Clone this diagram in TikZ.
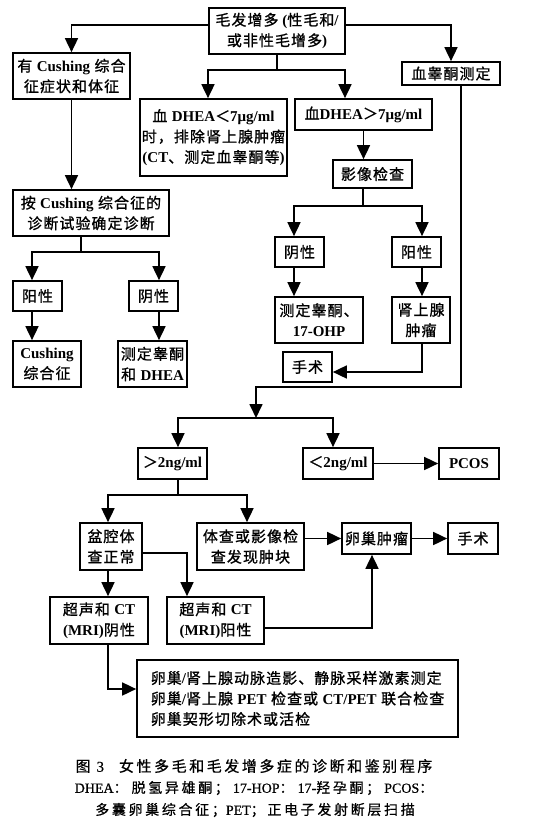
\documentclass[tikz,border=0pt]{standalone}
\usepackage{fontspec}
\setmainfont{Liberation Serif}
\newfontfamily\cjk[LetterSpace=7,FakeBold=1]{Noto Sans CJK SC}
\newfontfamily\cjkcapa[LetterSpace=17,FakeBold=0.6]{Noto Sans CJK SC}
\newfontfamily\cjkcapb[LetterSpace=19,FakeBold=0.6]{Noto Sans CJK SC}
\newfontfamily\capserif[FakeBold=0.6]{Liberation Serif}
\usetikzlibrary{arrows.meta}
\newcommand\en[1]{{\rmfamily\bfseries #1}}
\newcommand\enr[1]{{\capserif #1}}
\newcommand\bnode[6]{\node[bx, minimum width={(#4-#2)*1pt}, minimum height={(#5-#3)*1pt}] (#1) at ({(#2+#4)/2},{(#3+#5)/2}) {#6};}
\begin{document}
\begin{tikzpicture}[x=1pt,y=-1pt,
  bx/.style={draw, line width=1.7pt, inner sep=0pt, align=center, font=\cjk\fontsize{15}{20.5}\selectfont},
  arr/.style={line width=1.7pt, -{Triangle[length=14pt,width=13pt]}},
  ln/.style={line width=1.7pt},
  captxta/.style={inner sep=0pt, font=\cjkcapa\fontsize{15}{16}\selectfont},
  captxtb/.style={inner sep=0pt, font=\cjkcapb\fontsize{14}{16}\selectfont}]
\useasboundingbox (0,0) rectangle (554,820);
\fill[white] (0,0) rectangle (554,820);
% boxes
\bnode{top}{209}{8}{345}{54}{毛发增多\en{ (}性毛和\en{/}\\或非性毛增多\en{)}}
\bnode{cush}{13}{53}{130}{99}{有 \en{Cushing} 综合\\征症状和体征}
\bnode{test}{402}{62}{500}{85}{血睾酮测定}
\bnode{dl}{140}{99}{287}{176}{血 \en{DHEA}＜\en{7μg/ml}\\时，排除肾上腺肿瘤\\\en{(CT}、测定血睾酮等\en{)}}
\bnode{dg}{295}{99}{432}{130}{血\en{DHEA}＞\en{7μg/ml}}
\bnode{img}{333}{160}{412}{188}{影像检查}
\bnode{cdx}{13}{190}{169}{236}{按 \en{Cushing} 综合征的\\诊断试验确定诊断}
\bnode{pos1}{13}{281}{62}{311}{阳性}
\bnode{neg1}{129}{281}{178}{311}{阴性}
\bnode{cs}{13}{341}{81}{387}{\en{Cushing}\\综合征}
\bnode{td}{118}{341}{187}{387}{测定睾酮\\和 \en{DHEA}}
\bnode{neg2}{275}{237}{324}{267}{阴性}
\bnode{pos2}{392}{237}{441}{267}{阳性}
\bnode{t17}{275}{297}{363}{343}{测定睾酮、\\\en{17-OHP}}
\bnode{adr}{392}{297}{450}{343}{肾上腺\\肿瘤}
\bnode{surg1}{283}{352}{332}{382}{手术}
\bnode{gt}{138}{448}{207}{479}{＞\en{2ng/ml}}
\bnode{lt}{303}{448}{373}{479}{＜\en{2ng/ml}}
\bnode{pcos}{439}{448}{499}{479}{\en{PCOS}}
\bnode{pelv}{80}{523}{142}{570}{盆腔体\\查正常}
\bnode{mass}{197}{523}{304}{570}{体查或影像检\\查发现肿块}
\bnode{ovt}{342}{523}{411}{554}{卵巢肿瘤}
\bnode{surg2}{448}{523}{498}{554}{手术}
\bnode{usn}{50}{597}{148}{644}{超声和 \en{CT}\\\en{(MRI)}阴性}
\bnode{usp}{167}{597}{264}{644}{超声和 \en{CT}\\\en{(MRI)}阳性}
\node[bx, align=left, minimum width=321pt, minimum height=77pt] (big) at (297.5,698.5)
  {卵巢\en{/}肾上腺动脉造影、静脉采样激素测定\\卵巢\en{/}肾上腺 \en{PET} 检查或 \en{CT/PET} 联合检查\\卵巢契形切除术或活检};
% captions
\node[captxta] (cap1) at (254,766) {图 \enr{3}\quad 女性多毛和毛发增多症的诊断和鉴别程序};
\node[captxtb] (cap2) at (254,788) {\enr{DHEA}：\hspace{4pt}脱氢异雄酮；\hspace{4pt}\enr{17-HOP}：\hspace{4pt}\enr{17-}羟孕酮；\hspace{4pt}\enr{PCOS}：};
\node[captxtb] (cap3) at (255,810) {多囊卵巢综合征；\enr{PET}；正电子发射断层扫描};
% connectors
\draw[arr] ([yshift=6pt]top.west) -| (cush.north);
\draw[arr] ([yshift=6pt]top.east) -| (test.north);
\draw[ln] (top.south) -- ++(0,15) coordinate (j1);
\draw[arr] (j1) -| ([xshift=-5.5pt]dl.north);
\draw[arr] (j1) -| ([xshift=-18.5pt]dg.north);
\draw[arr] (dg.south) -- (dg.south |- img.north);
\draw[arr] (cush.south) -- (cush.south |- cdx.north);
\draw[ln] ([xshift=-10pt]cdx.south) -- ++(0,15) coordinate (j2);
\draw[arr] (j2) -| ([xshift=-5.5pt]pos1.north);
\draw[arr] (j2) -| ([xshift=5.5pt]neg1.north);
\draw[arr] ([xshift=-5.5pt]pos1.south) -- ([xshift=-5.5pt]pos1.south |- cs.north);
\draw[arr] ([xshift=5.5pt]neg1.south) -- ([xshift=5.5pt]neg1.south |- td.north);
\draw[ln] ([xshift=-9.5pt]img.south) -- ++(0,17) coordinate (j3);
\draw[arr] (j3) -| ([xshift=-5.5pt]neg2.north);
\draw[arr] (j3) -| ([xshift=5.5pt]pos2.north);
\draw[arr] ([xshift=-5.5pt]neg2.south) -- ([xshift=-5.5pt]neg2.south |- t17.north);
\draw[arr] ([xshift=5.5pt]pos2.south) -- ([xshift=5.5pt]pos2.south |- adr.north);
\draw[arr] ([xshift=1pt]adr.south) |- ([yshift=-5pt]surg1.east);
\coordinate (j5) at (256,387);
\coordinate (j4) at (256,418);
\draw[arr] ([xshift=10pt]test.south) |- (j5) -- (j4);
\draw[arr] (j4) -| ([xshift=5.5pt]gt.north);
\draw[arr] (j4) -| ([xshift=-5pt]lt.north);
\draw[arr] (lt.east) -- (pcos.west);
\draw[ln] ([xshift=5.5pt]gt.south) -- ++(0,15) coordinate (j6);
\draw[arr] (j6) -| ([xshift=-3pt]pelv.north);
\draw[arr] (j6) -| ([xshift=-3.5pt]mass.north);
\draw[arr] (mass.east |- ovt.west) -- (ovt.west);
\draw[arr] (ovt.east) -- (surg2.west);
\draw[arr] ([yshift=-6.5pt]pelv.east) -| ([xshift=-28.5pt]usp.north);
\draw[arr] ([xshift=-3pt]pelv.south) -- ([xshift=-3pt]pelv.south |- usn.north);
\draw[arr] ([yshift=-7.5pt]usp.east) -| ([xshift=-4.5pt]ovt.south);
\draw[arr] ([xshift=9pt]usn.south) |- ([yshift=9.5pt]big.west);
\end{tikzpicture}
\end{document}
